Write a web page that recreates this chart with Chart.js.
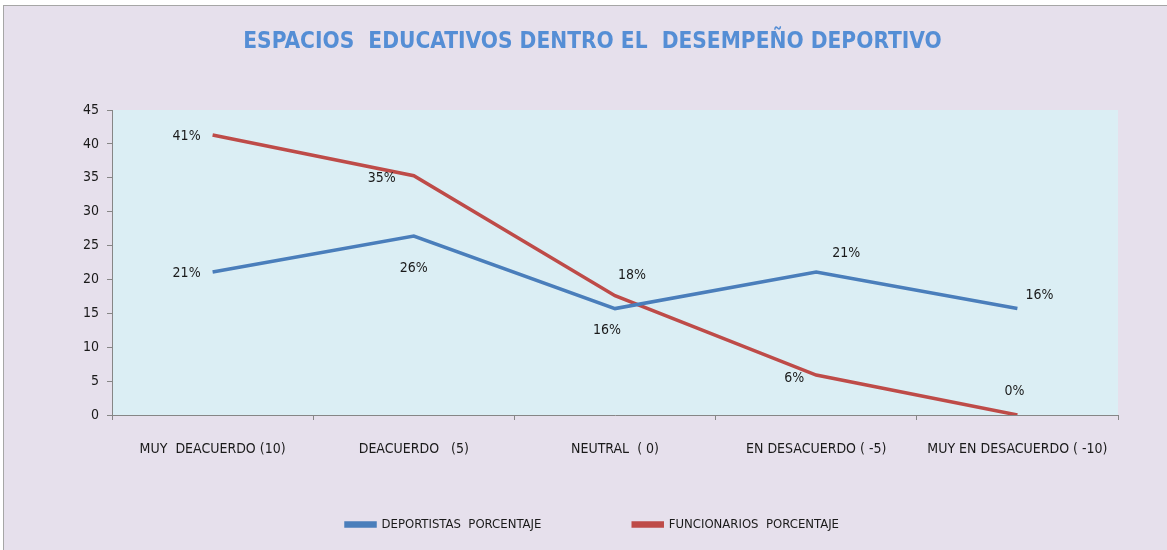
<!doctype html>
<html>

<head>
  <meta charset="UTF-8">
  <script src="https://cdn.jsdelivr.net/npm/chart.js"></script>
  <style>
    body { margin: 0; background: #fff; }
    #box {
      position: absolute; left: 3px; top: 5px; width: 1170px; height: 550px;
      background: #e6e0ec; border: 1px solid #a6a6a6; box-sizing: border-box;
    }
  </style>
</head>

<body>
  <div id="box">
    <canvas id="chart" width="1164" height="545"></canvas>
  </div>
</body>

<script>
  // data
  const categories = ['MUY  DEACUERDO (10)', 'DEACUERDO   (5)', 'NEUTRAL  ( 0)', 'EN DESACUERDO ( -5)', 'MUY EN DESACUERDO ( -10)'];
  const deportistas = [21.1, 26.4, 15.7, 21.1, 15.7];
  const funcionarios = [41.3, 35.3, 17.6, 5.9, 0];
  const deportistasLabels = ['21%', '26%', '16%', '21%', '16%'];
  const funcionariosLabels = ['41%', '35%', '18%', '6%', '0%'];

  const font = '"Liberation Sans Narrow", "DejaVu Sans Condensed", sans-serif';

  // label offsets from the point (dx, dy)
  const labelOffsets = [
    [[-26, 1], [0, 32], [-8, 22], [30, -19], [22, -13]],
    [[-26, 1], [-32, 3], [17, -20], [-22, 3], [-3, -24]]
  ];

  const plotBg = {
    id: 'plotBg',
    beforeDraw(chart) {
      const a = chart.chartArea, c = chart.ctx;
      c.save();
      c.fillStyle = '#dbeef4';
      c.fillRect(a.left, a.top, a.right - a.left, a.bottom - a.top);
      c.restore();
    }
  };

  const pointLabels = {
    id: 'pointLabels',
    afterDatasetsDraw(chart) {
      const c = chart.ctx;
      c.save();
      c.font = '14px ' + font;
      c.fillStyle = '#1a1a1a';
      c.textAlign = 'center';
      c.textBaseline = 'middle';
      chart.data.datasets.forEach((ds, i) => {
        chart.getDatasetMeta(i).data.forEach((pt, j) => {
          const off = labelOffsets[i][j];
          c.fillText(ds.labelsText[j], pt.x + off[0], pt.y + off[1]);
        });
      });
      c.restore();
    }
  };

  const ctx = document.getElementById('chart').getContext('2d');
  new Chart(ctx, {
    type: 'line',
    data: {
      labels: categories,
      datasets: [{
        label: 'DEPORTISTAS  PORCENTAJE',
        data: deportistas,
        labelsText: deportistasLabels,
        borderColor: '#4a7ebb',
        backgroundColor: '#4a7ebb',
        borderWidth: 3.5,
        pointRadius: 0,
        tension: 0
      }, {
        label: 'FUNCIONARIOS  PORCENTAJE',
        data: funcionarios,
        labelsText: funcionariosLabels,
        borderColor: '#be4b48',
        backgroundColor: '#be4b48',
        borderWidth: 3.5,
        pointRadius: 0,
        tension: 0
      }]
    },
    options: {
      responsive: false,
      animation: false,
      layout: { padding: { left: 63, right: 50, top: 0, bottom: 10 } },
      plugins: {
        title: {
          display: true,
          text: 'ESPACIOS  EDUCATIVOS DENTRO EL  DESEMPEÑO DEPORTIVO',
          color: '#558ed5',
          font: { family: font, size: 22.5, weight: 'bold' },
          padding: { top: 23, bottom: 54 }
        },
        legend: {
          position: 'bottom',
          labels: {
            color: '#1a1a1a',
            font: { family: font, size: 13 },
            boxWidth: 29,
            boxHeight: 3,
            padding: 10,
            // wide gap between the two entries, as in the original
            generateLabels(chart) {
              const items = Chart.defaults.plugins.legend.labels.generateLabels(chart);
              items[0].text += '\u2003'.repeat(7);
              return items;
            }
          }
        },
        tooltip: { enabled: false }
      },
      scales: {
        x: {
          offset: true,
          grid: { offset: true, drawOnChartArea: false, tickLength: 5, color: '#868686' },
          border: { color: '#868686' },
          ticks: { color: '#1a1a1a', font: { family: font, size: 14 }, maxRotation: 0, padding: 21 },
          afterFit(scale) { scale.height = 93; }
        },
        y: {
          min: 0,
          max: 45,
          grid: { drawOnChartArea: false, tickLength: 5, color: '#868686' },
          border: { color: '#868686' },
          ticks: { stepSize: 5, color: '#1a1a1a', font: { family: font, size: 14 }, padding: 8 },
          afterFit(scale) { scale.width = 45; }
        }
      }
    },
    plugins: [plotBg, pointLabels]
  });
</script>

</html>
